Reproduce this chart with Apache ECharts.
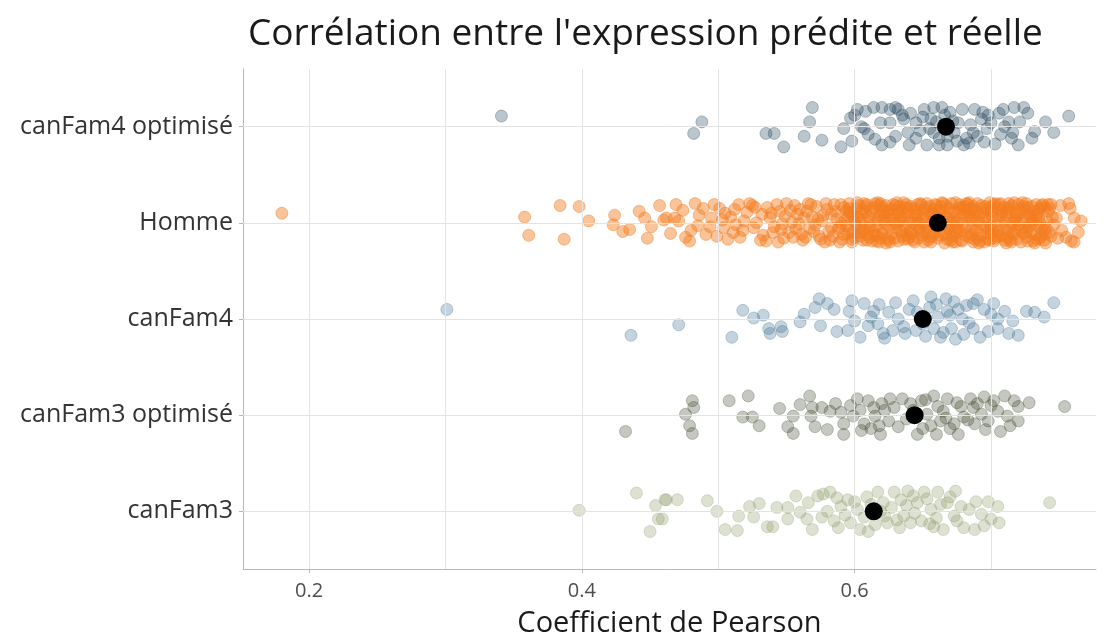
<!DOCTYPE html>
<html><head><meta charset="utf-8">
<script src="https://cdn.jsdelivr.net/npm/echarts@6/dist/echarts.min.js"></script>
<style>html,body{margin:0;padding:0;background:#fff}#c{width:1108px;height:637px}</style>
</head><body><div id="c"></div>
<script>
const categories = ['canFam3', 'canFam3 optimisé', 'canFam4', 'Homme', 'canFam4 optimisé'];
const seriesColors = ['#8e9c6b', '#3f4a30', '#3b6d8e', '#f47c20', '#1e3e55'];
const means = [0.614, 0.644, 0.650, 0.661, 0.667];
const xTickValues = [0.2, 0.4, 0.6];
const xGridValues = [0.2, 0.3, 0.4, 0.5, 0.6, 0.7];

// [pearson value, vertical jitter offset in category units]
const canFam3Points = [[0.398,0.01],[0.440,0.19],[0.454,0.06],[0.461,0.12],[0.456,-0.08],[0.450,-0.21],[0.462,0.12],[0.470,0.12],[0.459,-0.08],[0.492,0.11],[0.499,0.0],[0.505,-0.19],[0.514,-0.2],[0.515,-0.05],[0.523,0.05],[0.526,-0.06],[0.536,-0.16],[0.540,-0.16],[0.543,0.04],[0.551,-0.08],[0.551,0.04],[0.557,0.16],[0.560,-0.01],[0.565,-0.08],[0.569,-0.19],[0.573,0.16],[0.577,0.18],[0.582,0.2],[0.580,0.0],[0.585,-0.1],[0.590,0.05],[0.595,0.12],[0.597,-0.12],[0.602,0.02],[0.604,-0.19],[0.610,-0.21],[0.617,0.2],[0.621,0.09],[0.624,-0.12],[0.629,0.2],[0.634,0.12],[0.636,-0.05],[0.639,0.21],[0.641,-0.12],[0.646,0.09],[0.649,-0.1],[0.651,0.2],[0.656,0.02],[0.658,-0.16],[0.661,0.2],[0.665,-0.19],[0.668,0.09],[0.673,-0.05],[0.674,0.21],[0.678,0.05],[0.680,-0.17],[0.688,-0.19],[0.689,0.1],[0.698,0.1],[0.700,-0.08],[0.705,0.05],[0.706,-0.12],[0.743,0.09],[0.587,0.14],[0.593,-0.04],[0.600,0.1],[0.607,-0.06],[0.612,0.07],[0.615,-0.14],[0.619,0.0],[0.627,0.04],[0.631,-0.09],[0.638,0.06],[0.644,-0.02],[0.653,0.13],[0.660,-0.07],[0.670,0.15],[0.576,-0.06],[0.566,0.09],[0.530,0.08],[0.684,0.02],[0.695,-0.15],[0.663,0.07],[0.609,0.15],[0.622,-0.05],[0.633,-0.17],[0.643,0.16],[0.655,-0.13],[0.675,-0.1],[0.693,-0.03],[0.588,-0.17]];

const canFam3OptPoints = [[0.432,-0.17],[0.481,0.15],[0.482,0.08],[0.476,0.01],[0.479,-0.11],[0.481,-0.19],[0.508,0.15],[0.522,0.2],[0.518,-0.02],[0.525,-0.02],[0.530,-0.11],[0.545,0.07],[0.551,-0.12],[0.555,-0.01],[0.555,-0.19],[0.560,0.11],[0.567,0.2],[0.569,0.08],[0.568,-0.01],[0.571,-0.12],[0.576,0.08],[0.580,-0.15],[0.582,0.04],[0.590,0.03],[0.592,-0.09],[0.592,-0.2],[0.599,-0.01],[0.602,0.17],[0.607,-0.09],[0.610,0.15],[0.614,0.08],[0.615,-0.01],[0.618,-0.11],[0.619,-0.2],[0.626,0.17],[0.629,0.08],[0.632,-0.12],[0.635,0.17],[0.646,-0.2],[0.649,0.15],[0.653,0.01],[0.656,-0.11],[0.658,0.2],[0.660,-0.2],[0.661,0.09],[0.668,0.17],[0.673,-0.09],[0.676,-0.2],[0.678,0.09],[0.680,-0.02],[0.685,0.17],[0.687,0.08],[0.688,-0.09],[0.695,0.19],[0.693,0.01],[0.696,-0.15],[0.702,0.15],[0.705,0.04],[0.707,-0.17],[0.710,0.2],[0.712,-0.01],[0.714,-0.11],[0.720,0.09],[0.720,-0.06],[0.728,0.13],[0.754,0.09],[0.597,0.1],[0.605,-0.16],[0.622,0.05],[0.625,-0.06],[0.638,-0.04],[0.641,0.12],[0.652,0.16],[0.665,0.04],[0.670,-0.14],[0.683,-0.05],[0.690,0.12],[0.698,-0.06],[0.586,0.12],[0.612,-0.14],[0.663,-0.06],[0.675,0.13],[0.700,0.1],[0.717,0.15],[0.620,0.12],[0.643,0.05],[0.650,-0.14],[0.667,-0.03],[0.604,0.05]];

const canFam4Points = [[0.301,0.1],[0.436,-0.17],[0.471,-0.06],[0.510,-0.19],[0.518,0.09],[0.526,0.01],[0.533,0.04],[0.537,-0.1],[0.538,-0.15],[0.546,-0.08],[0.547,-0.13],[0.560,-0.03],[0.563,0.05],[0.571,0.12],[0.574,0.21],[0.575,-0.07],[0.580,0.16],[0.587,-0.13],[0.595,-0.12],[0.596,0.08],[0.598,0.19],[0.604,-0.19],[0.607,0.16],[0.610,-0.07],[0.614,0.08],[0.617,-0.05],[0.621,-0.15],[0.625,0.07],[0.632,0.0],[0.636,-0.08],[0.637,-0.15],[0.643,0.19],[0.646,0.07],[0.656,0.23],[0.658,-0.1],[0.663,-0.19],[0.667,0.21],[0.668,0.08],[0.671,-0.1],[0.673,0.18],[0.674,-0.21],[0.679,0.0],[0.682,0.14],[0.687,0.16],[0.687,-0.1],[0.692,-0.19],[0.700,0.05],[0.702,0.16],[0.705,-0.1],[0.705,0.0],[0.713,-0.15],[0.716,-0.02],[0.720,-0.17],[0.726,0.08],[0.732,0.07],[0.739,0.02],[0.746,0.17],[0.585,0.1],[0.600,-0.02],[0.618,0.15],[0.628,-0.12],[0.640,0.1],[0.650,-0.05],[0.655,0.12],[0.661,0.02],[0.665,-0.14],[0.676,0.1],[0.684,-0.04],[0.695,0.1],[0.698,-0.13],[0.710,0.08],[0.622,-0.2],[0.652,-0.18],[0.690,0.2],[0.660,0.15],[0.612,0.02],[0.645,-0.12],[0.670,0.04],[0.680,-0.16],[0.630,0.17]];

const hommePoints = [[0.180,0.1],[0.358,0.06],[0.361,-0.13],[0.384,0.18],[0.387,-0.17],[0.398,0.17],[0.405,0.02],[0.424,0.08],[0.423,-0.02],[0.430,-0.09],[0.435,-0.07],[0.446,0.05],[0.448,-0.16],[0.460,0.03],[0.462,0.05],[0.468,0.05],[0.474,0.13],[0.476,-0.15],[0.483,0.2],[0.489,0.15],[0.494,-0.04],[0.501,0.15],[0.504,-0.05],[0.509,0.06],[0.516,-0.15],[0.521,0.11],[0.526,-0.05],[0.531,-0.18],[0.538,0.05],[0.543,0.19],[0.546,-0.07],[0.553,0.13],[0.555,-0.15],[0.563,0.05],[0.568,0.19],[0.570,-0.09],[0.577,0.08],[0.582,-0.18],[0.585,0.19],[0.589,-0.04],[0.596,0.11],[0.598,-0.17],[0.742,0.19],[0.746,-0.02],[0.749,-0.16],[0.757,0.2],[0.761,0.05],[0.764,-0.1],[0.761,-0.2],[0.740,-0.21],[0.755,-0.15],
[0.586,0.12],[0.588,-0.06],[0.590,0.19],[0.591,-0.17],[0.593,0.03],[0.595,-0.11],[0.596,0.15],[0.598,-0.2],[0.599,0.07],[0.601,-0.02],[0.602,0.21],[0.604,-0.14],[0.605,0.1],[0.607,-0.07],[0.608,0.17],[0.609,-0.18],[0.611,0.01],[0.612,0.13],[0.614,-0.1],[0.615,0.2],[0.616,-0.04],[0.618,0.08],[0.619,-0.16],[0.620,0.16],[0.622,-0.01],[0.623,-0.21],[0.624,0.11],[0.626,0.04],[0.627,-0.12],[0.628,0.19],[0.630,-0.06],[0.631,0.14],[0.632,-0.19],[0.634,0.06],[0.635,-0.09],[0.636,0.21],[0.637,-0.03],[0.639,0.1],[0.640,-0.15],[0.641,0.17],[0.643,0.0],[0.644,-0.2],[0.645,0.12],[0.647,-0.08],[0.648,0.2],[0.649,-0.13],[0.650,0.05],[0.652,0.16],[0.653,-0.05],[0.654,-0.18],[0.656,0.09],[0.657,0.02],[0.658,-0.11],[0.659,0.19],[0.661,-0.16],[0.662,0.13],[0.663,-0.02],[0.665,0.07],[0.666,-0.21],[0.667,0.18],[0.669,-0.07],[0.670,0.11],[0.671,-0.14],[0.672,0.03],[0.674,0.21],[0.675,-0.1],[0.676,0.15],[0.678,-0.18],[0.679,0.0],[0.680,0.09],[0.681,-0.05],[0.683,0.19],[0.684,-0.15],[0.685,0.06],[0.687,-0.2],[0.688,0.14],[0.689,-0.08],[0.690,0.2],[0.692,-0.01],[0.693,-0.13],[0.694,0.1],[0.696,0.17],[0.697,-0.17],[0.698,0.04],[0.699,-0.06],[0.701,0.12],[0.702,-0.19],[0.703,0.2],[0.705,-0.09],[0.706,0.07],[0.707,-0.14],[0.709,0.16],[0.710,0.01],[0.711,-0.21],[0.713,0.11],[0.714,-0.04],[0.715,0.18],[0.717,-0.12],[0.718,0.05],[0.719,-0.17],[0.721,0.14],[0.722,-0.07],[0.723,0.21],[0.725,0.02],[0.726,-0.15],[0.727,0.09],[0.729,-0.1],[0.730,0.17],[0.731,-0.19],[0.733,0.06],[0.734,-0.03],[0.735,0.13],[0.737,-0.13],[0.738,0.19],[0.739,-0.08],[0.741,0.03],
[0.584,-0.14],[0.587,0.04],[0.589,-0.2],[0.592,0.16],[0.594,-0.03],[0.597,0.1],[0.600,-0.15],[0.603,0.18],[0.606,-0.09],[0.610,0.06],[0.613,-0.19],[0.617,0.21],[0.621,-0.07],[0.625,0.13],[0.629,-0.16],[0.633,0.02],[0.638,0.19],[0.642,-0.11],[0.646,0.08],[0.651,-0.2],[0.655,0.17],[0.660,-0.04],[0.664,0.12],[0.668,-0.17],[0.673,0.05],[0.677,-0.09],[0.682,0.2],[0.686,-0.12],[0.691,0.08],[0.695,-0.2],[0.700,0.16],[0.704,-0.02],[0.708,0.12],[0.712,-0.16],[0.716,0.0],[0.720,0.19],[0.724,-0.11],[0.728,0.07],[0.732,-0.21],[0.736,0.15],[0.740,-0.05],[0.612,-0.03],[0.619,0.07],[0.626,-0.2],[0.633,0.17],[0.641,-0.07],[0.649,0.1],[0.657,-0.14],[0.664,0.21],[0.672,-0.2],[0.679,0.14],[0.686,-0.04],[0.693,0.18],[0.700,-0.12],[0.707,0.2],[0.714,-0.18],[0.722,0.1],[0.729,0.0],[0.736,-0.16],[0.605,0.01],[0.615,-0.13],[0.623,0.18],[0.631,-0.01],[0.639,-0.17],[0.645,0.04],[0.653,0.2],[0.661,0.06],[0.669,0.15],[0.677,0.19],[0.684,0.1],[0.690,-0.16],[0.698,-0.1],[0.705,0.15],[0.711,0.08],[0.719,0.02],[0.727,0.16],[0.734,0.1],[0.742,0.12],[0.744,-0.14],[0.745,0.06],
[0.442,0.12],[0.451,-0.04],[0.457,0.18],[0.465,-0.11],[0.471,0.02],[0.479,-0.19],[0.486,0.08],[0.491,-0.12],[0.497,0.19],[0.503,0.03],[0.507,-0.17],[0.512,0.14],[0.518,-0.08],[0.523,0.2],[0.528,0.0],[0.533,-0.13],[0.536,0.16],[0.541,-0.04],[0.544,-0.2],[0.549,0.07],[0.552,-0.1],[0.556,0.18],[0.559,-0.01],[0.562,-0.18],[0.565,0.12],[0.567,-0.06],[0.572,0.17],[0.574,-0.14],[0.576,0.02],[0.579,0.2],[0.581,-0.09],[0.583,0.09],[0.558,0.09],[0.548,-0.16],[0.539,0.1],[0.527,0.16],[0.513,-0.02],[0.499,-0.14],[0.485,-0.03],[0.469,0.19],[0.573,0.04],[0.566,0.2],[0.561,-0.12],[0.554,0.01],[0.578,-0.2],[0.571,-0.02],
[0.590,0.0],[0.594,0.13],[0.597,-0.08],[0.601,0.15],[0.604,0.04],[0.607,0.2],[0.609,-0.12],[0.613,0.09],[0.616,-0.19],[0.618,0.18],[0.621,0.03],[0.624,-0.16],[0.627,0.14],[0.629,0.0],[0.632,0.1],[0.635,-0.14],[0.637,0.16],[0.640,0.02],[0.643,-0.18],[0.646,0.19],[0.648,-0.06],[0.651,0.13],[0.654,0.01],[0.656,-0.2],[0.659,0.06],[0.662,-0.09],[0.665,0.2],[0.667,-0.03],[0.670,-0.18],[0.673,0.12],[0.675,0.01],[0.678,0.16],[0.681,-0.13],[0.684,0.21],[0.686,0.03],[0.689,0.11],[0.692,-0.19],[0.695,0.05],[0.697,0.14],[0.700,-0.03],[0.703,-0.16],[0.706,0.19],[0.709,-0.06],[0.712,0.14],[0.715,-0.2],[0.718,0.1],[0.721,-0.02],[0.724,0.17],[0.727,-0.19],[0.730,0.04],[0.733,0.19],[0.736,0.0],[0.739,0.16],[0.743,-0.1],[0.595,0.07],[0.603,-0.05],[0.611,-0.15],[0.617,0.03],[0.625,-0.04],[0.631,0.21],[0.638,-0.12],[0.644,0.15],[0.650,-0.1],[0.657,0.11],[0.663,-0.13],[0.670,0.0],[0.676,-0.06],[0.682,0.07],[0.688,-0.17],[0.694,-0.05],[0.701,0.06],[0.708,-0.12],[0.713,0.2],[0.718,-0.08],[0.725,-0.05],[0.731,0.12],[0.737,-0.06],[0.606,0.14],[0.620,-0.11],[0.634,0.13],[0.647,0.01],[0.660,0.18],[0.674,-0.2],[0.687,0.17],[0.699,0.21],[0.712,-0.08],[0.726,0.2],[0.739,-0.18],[0.748,0.05],[0.752,-0.08],[0.758,0.15],[0.766,0.02],[0.751,0.18],[0.759,-0.19],
[0.592,-0.12],[0.596,0.2],[0.599,-0.1],[0.602,0.06],[0.606,-0.18],[0.608,0.11],[0.611,-0.06],[0.614,0.16],[0.617,-0.13],[0.619,0.2],[0.622,0.07],[0.625,-0.18],[0.628,0.03],[0.630,0.18],[0.633,-0.08],[0.636,0.04],[0.639,0.15],[0.641,-0.1],[0.644,0.09],[0.647,-0.16],[0.649,0.19],[0.652,-0.02],[0.655,-0.15],[0.658,0.14],[0.660,0.0],[0.663,0.17],[0.666,-0.12],[0.668,0.06],[0.671,0.2],[0.674,-0.07],[0.677,0.03],[0.679,-0.19],[0.682,0.13],[0.685,-0.09],[0.688,0.05],[0.691,-0.21],[0.693,0.15],[0.696,-0.04],[0.699,0.09],[0.702,0.19],[0.704,-0.14],[0.707,0.03],[0.710,-0.18],[0.713,0.16],[0.716,-0.1],[0.719,0.08],[0.722,-0.2],[0.725,0.13],[0.728,-0.04],[0.731,0.02],[0.734,-0.17],[0.737,0.18],[0.740,-0.11],[0.743,0.15],[0.600,0.02],[0.609,0.19],[0.618,-0.2],[0.627,0.09],[0.636,-0.17],[0.645,-0.02],[0.654,0.12],[0.663,0.04],[0.672,-0.11],[0.681,0.17],[0.690,0.02],[0.699,-0.18],[0.708,0.08],[0.717,0.21],[0.726,-0.09],[0.735,0.05],[0.744,0.19],[0.604,-0.1],[0.621,0.12],[0.637,0.08],[0.653,-0.09],[0.669,-0.04],[0.685,0.14],[0.701,-0.07],[0.717,0.04],[0.733,-0.12],
[0.505,0.1],[0.511,-0.1],[0.519,0.02],[0.525,0.18],[0.532,0.09],[0.535,-0.19],[0.540,-0.1],[0.545,0.12],[0.550,0.2],[0.557,-0.06],[0.560,0.14],[0.564,-0.15],[0.569,0.06],[0.575,-0.17],[0.580,0.14],[0.583,-0.05],[0.515,0.19],[0.495,0.05],[0.480,-0.08],[0.547,-0.01]];

const canFam4OptPoints = [[0.341,0.11],[0.488,0.05],[0.482,-0.07],[0.535,-0.07],[0.541,-0.07],[0.548,-0.21],[0.569,0.2],[0.567,0.05],[0.563,-0.1],[0.576,-0.14],[0.590,-0.21],[0.592,-0.02],[0.597,0.09],[0.608,0.16],[0.607,-0.02],[0.615,-0.13],[0.614,0.2],[0.620,0.2],[0.626,0.18],[0.632,0.18],[0.619,0.04],[0.626,0.04],[0.626,-0.16],[0.639,-0.06],[0.640,-0.19],[0.645,0.04],[0.651,0.18],[0.653,-0.19],[0.658,0.2],[0.664,0.2],[0.658,-0.06],[0.662,-0.19],[0.668,-0.19],[0.673,-0.06],[0.676,0.04],[0.679,0.18],[0.680,-0.19],[0.687,-0.06],[0.688,0.18],[0.694,0.15],[0.695,-0.16],[0.700,0.04],[0.709,0.18],[0.707,-0.08],[0.713,0.05],[0.716,-0.06],[0.717,0.2],[0.724,0.2],[0.721,0.05],[0.720,-0.19],[0.732,-0.05],[0.740,0.05],[0.746,-0.06],[0.757,0.11],[0.598,-0.15],[0.605,0.0],[0.630,-0.1],[0.635,0.12],[0.645,-0.12],[0.650,0.1],[0.655,-0.02],[0.660,0.05],[0.670,0.15],[0.675,-0.15],[0.685,0.02],[0.690,-0.1],[0.698,0.12],[0.703,-0.18],[0.710,0.0],[0.715,-0.12],[0.630,0.2],[0.620,-0.19],[0.600,0.12],[0.610,-0.08],[0.602,0.18],[0.636,0.08],[0.648,-0.04],[0.666,0.12],[0.682,-0.12],[0.693,0.08],[0.706,0.14],[0.727,0.14],[0.730,-0.12],[0.668,-0.1],[0.641,0.14],[0.656,0.08],[0.672,0.06],[0.684,-0.17],[0.697,-0.02],[0.662,-0.12]];

const groupPoints = [canFam3Points, canFam3OptPoints, canFam4Points, hommePoints, canFam4OptPoints];
const groupOpacity = [0.3, 0.3, 0.3, 0.45, 0.3];

const FONT = 'Open Sans';
const chart = echarts.init(document.getElementById('c'));

const series = groupPoints.map((pts, i) => ({
  type: 'scatter',
  name: categories[i],
  symbolSize: 12,
  data: pts.map(p => [p[0], i + 1 + p[1]]),
  itemStyle: { color: seriesColors[i], opacity: groupOpacity[i], borderColor: seriesColors[i], borderWidth: 1 },
  emphasis: { disabled: true },
  z: 3
}));

series.push({
  type: 'scatter',
  name: 'moyenne',
  symbolSize: 18,
  data: means.map((m, i) => [m, i + 1]),
  itemStyle: { color: '#000', opacity: 1 },
  emphasis: { disabled: true },
  z: 5
});

series.push({
  type: 'scatter',
  data: [],
  silent: true,
  z: 1,
  markLine: {
    silent: true,
    symbol: 'none',
    label: { show: false },
    animation: false,
    lineStyle: { color: '#e3e3e3', width: 1, type: 'solid' },
    data: xGridValues.map(v => ({ xAxis: v })).concat(categories.map((c, i) => ({ yAxis: i + 1 })))
  }
});

chart.setOption({
  animation: false,
  backgroundColor: '#fff',
  title: {
    text: "Corrélation entre l'expression prédite et réelle",
    left: 243, top: 11,
    textStyle: { fontFamily: FONT, fontSize: 37, fontWeight: 'normal', color: '#1a1a1a' }
  },
  grid: { left: 243, right: 12, top: 69, bottom: 68, containLabel: false, outerBoundsMode: 'none' },
  xAxis: {
    type: 'value',
    min: 0.1515, max: 0.777,
    name: 'Coefficient de Pearson',
    nameLocation: 'middle',
    nameGap: 40,
    nameTextStyle: { fontFamily: FONT, fontSize: 29, color: '#1a1a1a' },
    axisLine: { show: true, lineStyle: { color: '#b8b8b8', width: 1 } },
    axisTick: { show: true, customValues: xTickValues, length: 4, lineStyle: { color: '#b8b8b8' } },
    axisLabel: { customValues: xTickValues, fontFamily: FONT, fontSize: 20, color: '#4d4d4d', margin: 12, formatter: v => String(v) },
    splitLine: { show: false }
  },
  yAxis: {
    type: 'value',
    min: 0.4, max: 5.6,
    axisLine: { show: true, lineStyle: { color: '#b8b8b8', width: 1 } },
    axisTick: { show: true, customValues: [1, 2, 3, 4, 5], length: 4, lineStyle: { color: '#b8b8b8' } },
    axisLabel: { customValues: [1, 2, 3, 4, 5], fontFamily: FONT, fontSize: 25, color: '#333', margin: 10,
      formatter: v => categories[Math.round(v) - 1] || '' },
    splitLine: { show: false }
  },
  series: series
});
</script></body></html>
